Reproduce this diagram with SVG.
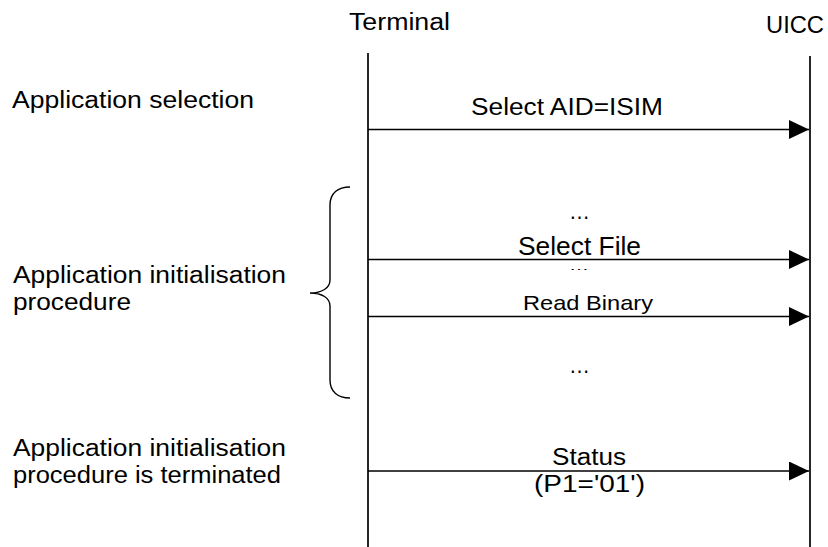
<svg xmlns="http://www.w3.org/2000/svg" width="828" height="547" viewBox="0 0 828 547">
<style>
text{font-family:"Liberation Sans",Arial,sans-serif;fill:#000;}
.big{font-size:23.5px;}
.dots{font-size:22px;}
.life{stroke:#000;stroke-width:1.7;fill:none;}
.msg{stroke:#000;stroke-width:1.4;fill:none;}
.brace{stroke:#000;stroke-width:1.4;fill:none;}
</style>
<defs>
<marker id="ah" markerUnits="userSpaceOnUse" markerWidth="20" markerHeight="19" refX="20" refY="9.5" orient="auto">
<path d="M0,0 L20,9.5 L0,19 z" fill="#000"/>
</marker>
</defs>
<rect width="828" height="547" fill="#fff"/>
<g id="terminal">
<text class="big" x="349" y="30" textLength="101" lengthAdjust="spacingAndGlyphs">Terminal</text>
<line class="life" x1="368" y1="53" x2="368" y2="547"/>
</g>
<g id="uicc">
<text class="big" x="766" y="33" textLength="58" lengthAdjust="spacingAndGlyphs">UICC</text>
<line class="life" x1="810" y1="56" x2="810" y2="547"/>
</g>
<g id="label-selection">
<text class="big" x="12" y="108" textLength="242" lengthAdjust="spacingAndGlyphs">Application selection</text>
</g>
<g id="label-init">
<text class="big" x="13" y="283" textLength="273" lengthAdjust="spacingAndGlyphs">Application initialisation</text>
<text class="big" x="13" y="310" textLength="118" lengthAdjust="spacingAndGlyphs">procedure</text>
<path class="brace" d="M350,187 C338,187 330,193 330,205 L330,280 C330,288 322,293 310,293 C322,293 330,298 330,306 L330,380 C330,392 338,398 350,398"/>
</g>
<g id="label-terminated">
<text class="big" x="13" y="456" textLength="273" lengthAdjust="spacingAndGlyphs">Application initialisation</text>
<text class="big" x="13" y="483" textLength="268" lengthAdjust="spacingAndGlyphs">procedure is terminated</text>
</g>
<g id="connectors">
<line class="msg" x1="368" y1="129.5" x2="809" y2="129.5" marker-end="url(#ah)"/>
<line class="msg" x1="368" y1="259.5" x2="809" y2="259.5" marker-end="url(#ah)"/>
<line class="msg" x1="368" y1="316.5" x2="809" y2="316.5" marker-end="url(#ah)"/>
<line class="msg" x1="368" y1="471" x2="809" y2="471" marker-end="url(#ah)"/>
</g>
<g id="msg-labels">
<text class="big" x="471" y="115" textLength="192" lengthAdjust="spacingAndGlyphs">Select AID=ISIM</text>
<text class="dots" x="569" y="219" textLength="21" lengthAdjust="spacingAndGlyphs">…</text>
<text x="518" y="255" font-size="26.5" textLength="123" lengthAdjust="spacingAndGlyphs">Select File</text>
<text x="569" y="270" font-size="9" textLength="20" lengthAdjust="spacingAndGlyphs">…</text>
<text x="523" y="310" font-size="21" textLength="130" lengthAdjust="spacingAndGlyphs">Read Binary</text>
<text class="dots" x="569" y="373" textLength="21" lengthAdjust="spacingAndGlyphs">…</text>
<text class="big" x="552" y="465" textLength="74" lengthAdjust="spacingAndGlyphs">Status</text>
<text class="big" x="534" y="492" textLength="111" lengthAdjust="spacingAndGlyphs">(P1='01')</text>
</g>
</svg>
